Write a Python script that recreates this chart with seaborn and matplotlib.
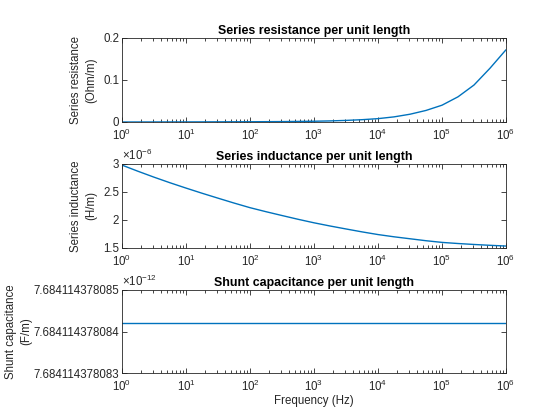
import matplotlib
matplotlib.use("Agg")
import matplotlib.pyplot as plt
import matplotlib.ticker as mticker
import seaborn as sns
import numpy as np

# data
frequency_hz = [1, 1.78, 3.16, 5.62, 10, 17.8, 31.6, 56.2, 100, 178, 316, 562,
                1e3, 1.78e3, 3.16e3, 5.62e3, 1e4, 1.78e4, 3.16e4, 5.62e4,
                1e5, 1.78e5, 3.16e5, 5.62e5, 1e6]
resistance_ohm_m = [0.0, 0.00005, 0.0001, 0.00015, 0.0002, 0.0003, 0.0004, 0.0005,
                    0.0006, 0.0008, 0.001, 0.0014, 0.0018, 0.0026, 0.0038, 0.0055,
                    0.008, 0.0122, 0.0185, 0.0275, 0.040, 0.060, 0.088, 0.128, 0.172]
inductance_uH_m = [2.98, 2.87, 2.765, 2.665, 2.57, 2.478, 2.39, 2.303, 2.22, 2.148,
                   2.08, 2.013, 1.95, 1.893, 1.84, 1.788, 1.74, 1.70, 1.665, 1.63,
                   1.60, 1.58, 1.563, 1.548, 1.535]
capacitance_pF_m = [7.6841143780842] * len(frequency_hz)

titles = ["Series resistance per unit length",
          "Series inductance per unit length",
          "Shunt capacitance per unit length"]
ylabels = ["Series resistance\n(Ohm/m)", "Series inductance\n(H/m)",
           "Shunt capacitance\n(F/m)"]
res_ticks = [0, 0.1, 0.2]
ind_ticks = [1.5, 2, 2.5, 3]
cap_ticks = [7.684114378083, 7.684114378084, 7.684114378085]

sns.set_style("ticks")
plt.rcParams['font.family'] = ['Liberation Sans', 'DejaVu Sans']
plt.rcParams['mathtext.fontset'] = 'custom'
plt.rcParams['mathtext.rm'] = 'Liberation Sans'
plt.rcParams['mathtext.it'] = 'Liberation Sans'

dark = "#262626"
blue = "#0072BD"
fs = 8.3

fig = plt.figure(figsize=(5.6, 4.2), dpi=100)
positions = [[122/560, (420-122)/420, 384/560, 84/420],
             [122/560, (420-248)/420, 384/560, 84/420],
             [122/560, (420-373)/420, 384/560, 83/420]]
axes = [fig.add_axes(p) for p in positions]
series = [resistance_ohm_m, inductance_uH_m, capacitance_pF_m]
label_x = [-0.065, -0.065, -0.235]

for ax, y, t, yl, lx in zip(axes, series, titles, ylabels, label_x):
    sns.lineplot(x=frequency_hz, y=y, ax=ax, color=blue, linewidth=1.0)
    ax.set_xscale("log")
    ax.set_xlim(1, 1e6)
    ax.set_title(t, fontsize=8.95, fontweight="bold", color="black", pad=3)
    ax.set_ylabel(yl, fontsize=fs, color=dark, linespacing=1.3)
    ax.yaxis.set_label_coords(lx, 0.5)
    ax.xaxis.set_major_locator(mticker.LogLocator(base=10, numticks=10))
    ax.xaxis.set_minor_locator(mticker.LogLocator(base=10, subs=np.arange(2, 10), numticks=20))
    ax.xaxis.set_minor_formatter(mticker.NullFormatter())
    ax.tick_params(which="both", direction="in", top=True, right=True,
                   colors=dark, labelsize=fs, width=0.6)
    ax.tick_params(axis="y", which="major", length=3.5, pad=2)
    ax.tick_params(axis="x", which="major", length=3.5, pad=4.5)
    ax.tick_params(which="minor", length=2)
    for s in ax.spines.values():
        s.set_color(dark)
        s.set_linewidth(0.6)

axes[0].set_ylim(0, 0.2)
axes[0].set_yticks(res_ticks)
axes[0].yaxis.set_major_formatter(mticker.FuncFormatter(lambda v, p: "0" if v == 0 else f"{v:g}"))

axes[1].set_ylim(1.5, 3)
axes[1].set_yticks(ind_ticks)
axes[1].yaxis.set_major_formatter(mticker.FuncFormatter(lambda v, p: f"{v:g}"))
axes[1].text(0, 1.01, r"$\times10^{-6}$", transform=axes[1].transAxes,
             fontsize=fs, color=dark, ha="left", va="bottom")

axes[2].set_ylim(cap_ticks[0], cap_ticks[-1])
axes[2].yaxis.set_major_locator(mticker.FixedLocator(cap_ticks))
axes[2].yaxis.set_major_formatter(mticker.FuncFormatter(lambda v, p: f"{v:.12f}"))
axes[2].text(0, 1.01, r"$\times10^{-12}$", transform=axes[2].transAxes,
             fontsize=fs, color=dark, ha="left", va="bottom")
axes[2].set_xlabel("Frequency (Hz)", fontsize=fs, color=dark, labelpad=0.5)

fig.savefig("out.png", dpi=100, facecolor="white")
